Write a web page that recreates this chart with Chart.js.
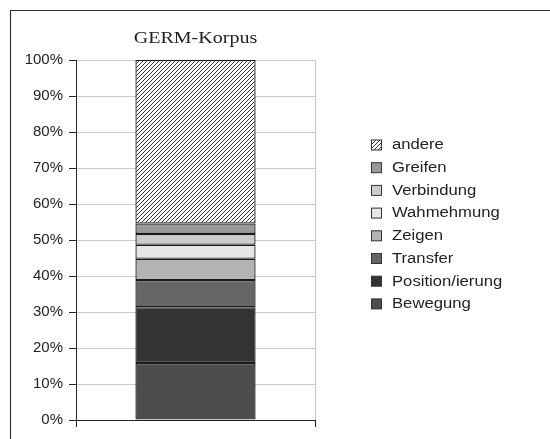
<!DOCTYPE html>
<html>
<head>
<meta charset="utf-8">
<script src="https://cdn.jsdelivr.net/npm/chart.js@4"></script>
<style>
  html, body { margin: 0; padding: 0; background: #fff; }
  #wrap { width: 550px; height: 439px; }
</style>
</head>
<body>
<div id="wrap"><canvas id="germChart" width="550" height="439"></canvas></div>
<script>
const chartTitle = 'GERM-Korpus';
const categories = [''];
// unten nach oben gestapelt
const seriesNames = ['Bewegung', 'Position/ierung', 'Transfer', 'Zeigen', 'Wahmehmung', 'Verbindung', 'Greifen', 'andere'];
const seriesValues = [15.8, 15.5, 7.6, 5.9, 3.9, 3.0, 2.9, 45.4];
const yTickValues = [0, 10, 20, 30, 40, 50, 60, 70, 80, 90, 100];

const seriesColors = ['#4d4d4d', '#333333', '#666666', '#b3b3b3', '#e6e6e6', '#cccccc', '#999999', 'hatch'];

// Schraffur für "andere"
function makeHatch() {
    const c = document.createElement('canvas');
    c.width = 4; c.height = 4;
    const g = c.getContext('2d');
    g.fillStyle = '#ffffff';
    g.fillRect(0, 0, 4, 4);
    g.strokeStyle = '#333333';
    g.lineWidth = 1;
    g.beginPath();
    g.moveTo(0, 4); g.lineTo(4, 0);
    g.moveTo(-1, 1); g.lineTo(1, -1);
    g.moveTo(3, 5); g.lineTo(5, 3);
    g.stroke();
    return g.createPattern(c, 'repeat');
}
const hatch = makeHatch();
const fills = seriesColors.map(c => c === 'hatch' ? hatch : c);

// Text leicht in die Breite ziehen wie im Original
function wideText(ctx, text, x, y, sx) {
    ctx.save();
    ctx.translate(x, y);
    ctx.scale(sx, 1);
    ctx.fillText(text, 0, 0);
    ctx.restore();
}

const framePlugin = {
    id: 'frame',
    beforeDraw(chart) {
        const ctx = chart.ctx;
        ctx.save();
        ctx.fillStyle = '#fff';
        ctx.fillRect(0, 0, chart.width, chart.height);
        ctx.strokeStyle = '#333';
        ctx.lineWidth = 1.2;
        ctx.beginPath();
        ctx.moveTo(10.5, chart.height);
        ctx.lineTo(10.5, 10.5);
        ctx.lineTo(chart.width, 10.5);
        ctx.stroke();
        ctx.restore();
    },
    afterDraw(chart) {
        const ctx = chart.ctx;
        const area = chart.chartArea;
        ctx.save();
        // Titel
        ctx.fillStyle = '#222';
        ctx.font = '16px "Liberation Serif"';
        ctx.textAlign = 'center';
        ctx.textBaseline = 'middle';
        wideText(ctx, chartTitle, (area.left + area.right) / 2, 39, 1.25);
        // Legende (umgekehrte Reihenfolge)
        ctx.font = '14px "Liberation Sans"';
        ctx.textAlign = 'left';
        for (let k = 0; k < seriesNames.length; k++) {
            const i = seriesNames.length - 1 - k;
            const y = 145.5 + k * 22.7;
            ctx.fillStyle = fills[i];
            ctx.fillRect(371.5, y - 5.5, 10, 10);
            ctx.strokeStyle = '#333';
            ctx.lineWidth = 1;
            ctx.strokeRect(371.5, y - 5.5, 10, 10);
            ctx.fillStyle = '#222';
            wideText(ctx, seriesNames[i], 392, y, 1.19);
        }
        ctx.restore();
    }
};

new Chart(document.getElementById('germChart').getContext('2d'), {
    type: 'bar',
    data: {
        labels: categories,
        datasets: seriesNames.map((name, i) => ({
            label: name,
            data: [seriesValues[i]],
            backgroundColor: fills[i],
            borderColor: '#1a1a1a',
            borderWidth: 1.3,
            borderSkipped: false,
            categoryPercentage: 1,
            barPercentage: 0.503
        }))
    },
    options: {
        responsive: false,
        animation: false,
        devicePixelRatio: 1,
        layout: { padding: { left: 0, top: 60, right: 235, bottom: 12 } },
        plugins: {
            legend: { display: false },
            title: { display: false },
            tooltip: { enabled: false }
        },
        scales: {
            x: {
                stacked: true,
                offset: true,
                grid: { offset: true, color: '#c8c8c8', tickColor: '#222', tickLength: 7 },
                border: { color: '#222', width: 1 },
                ticks: { display: false },
                afterFit(axis) { axis.height = 7; }
            },
            y: {
                stacked: true,
                min: 0,
                max: 100,
                afterBuildTicks(axis) { axis.ticks = yTickValues.map(v => ({ value: v })); },
                grid: { color: '#c8c8c8', tickColor: '#222', tickLength: 7 },
                border: { color: '#222', width: 1 },
                ticks: {
                    padding: 6,
                    color: '#222',
                    font: { family: 'Liberation Sans', size: 15 },
                    callback: v => v + '%'
                },
                afterFit(axis) { axis.width = 76; }
            }
        }
    },
    plugins: [framePlugin]
});
</script>
</body>
</html>
